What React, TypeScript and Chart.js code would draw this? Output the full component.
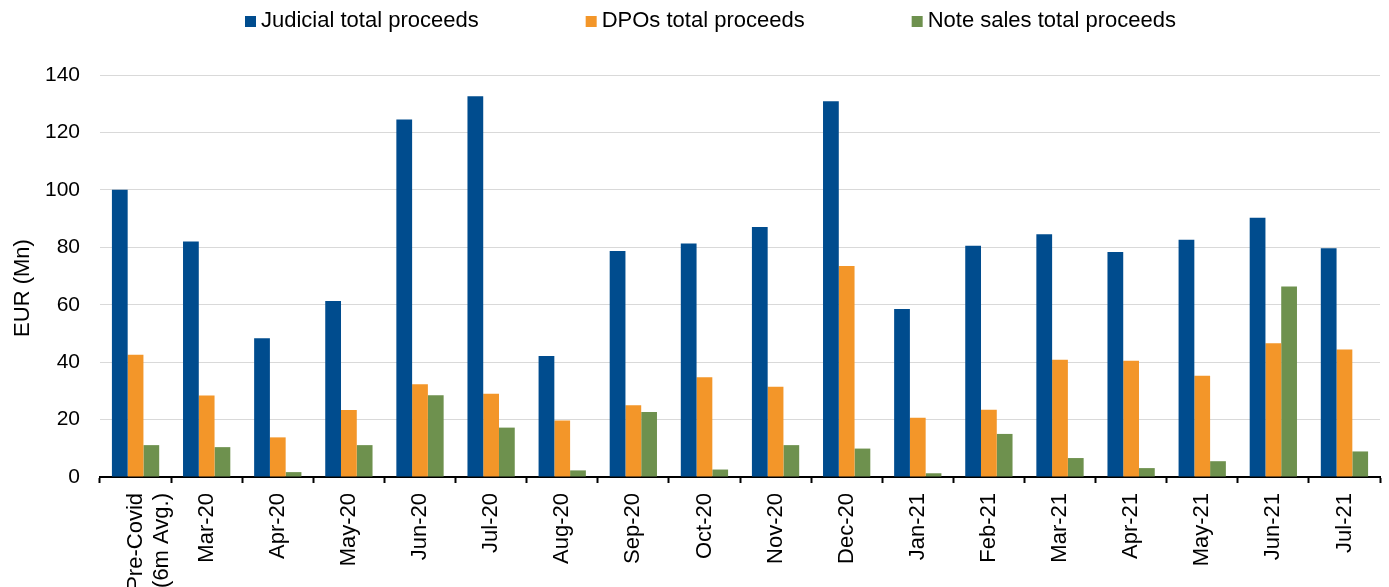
import React, { useEffect, useRef } from "react";
import { Chart, registerables } from "chart.js";

Chart.register(...registerables);

const categories: (string | string[])[] = [
  ["Pre-Covid", "(6m Avg.)"], "Mar-20", "Apr-20", "May-20", "Jun-20", "Jul-20", "Aug-20",
  "Sep-20", "Oct-20", "Nov-20", "Dec-20", "Jan-21", "Feb-21", "Mar-21", "Apr-21",
  "May-21", "Jun-21", "Jul-21",
];

const judicial = [100, 82, 48.3, 61.3, 124.5, 132.6, 42.1, 78.7, 81.3, 87.1, 130.9, 58.5, 80.5, 84.5, 78.4, 82.6, 90.3, 79.7];
const dpos = [42.6, 28.4, 13.8, 23.3, 32.3, 29.0, 19.7, 25.0, 34.7, 31.4, 73.5, 20.6, 23.4, 40.8, 40.5, 35.3, 46.6, 44.4];
const noteSales = [11.1, 10.4, 1.7, 11.1, 28.5, 17.2, 2.3, 22.6, 2.6, 11.1, 9.9, 1.3, 15.0, 6.6, 3.1, 5.5, 66.3, 8.9];

const seriesLabels = ["Judicial total proceeds", "DPOs total proceeds", "Note sales total proceeds"];
const seriesColors = ["#004C8E", "#F39629", "#6E914E"];

const yTitle = "EUR (Mn)";
const yTicks = { min: 0, max: 140, step: 20 };

const FONT = '"Liberation Sans", Arial, sans-serif';

const topLegend = {
  id: "topLegend",
  afterDraw(chart: any) {
    const ctx = chart.ctx;
    ctx.save();
    ctx.font = `22px ${FONT}`;
    ctx.textBaseline = "middle";
    ctx.textAlign = "left";
    let x = 245;
    const yBox = 21.5;
    const yText = 20.5;
    chart.data.datasets.forEach((ds: any) => {
      ctx.fillStyle = ds.backgroundColor;
      ctx.fillRect(x, yBox - 5.5, 11, 11);
      x += 16;
      ctx.fillStyle = "#000";
      ctx.fillText(ds.label, x, yText);
      x += ctx.measureText(ds.label).width + 107;
    });
    // y-axis title
    ctx.translate(23, (chart.chartArea.top + chart.chartArea.bottom) / 2 + 12);
    ctx.rotate(-Math.PI / 2);
    ctx.textAlign = "center";
    ctx.textBaseline = "middle";
    ctx.fillStyle = "#000";
    ctx.fillText(yTitle, 0, 0);
    ctx.restore();
  },
};

export default function App() {
  const ref = useRef<HTMLCanvasElement | null>(null);

  useEffect(() => {
    if (!ref.current) return;
    const chart = new Chart(ref.current, {
      type: "bar",
      data: {
        labels: categories,
        datasets: [judicial, dpos, noteSales].map((d, i) => ({
          label: seriesLabels[i],
          data: d,
          backgroundColor: seriesColors[i],
          borderWidth: 0,
          categoryPercentage: 0.665,
          barPercentage: 1,
        })),
      },
      options: {
        responsive: true,
        maintainAspectRatio: false,
        animation: false,
        layout: { padding: { top: 75, right: 9, left: 0, bottom: 0 } },
        plugins: {
          legend: { display: false },
          tooltip: { enabled: false },
        },
        scales: {
          x: {
            afterFit: (s: any) => {
              s.height = 110;
            },
            border: { display: true, color: "#000", width: 2 },
            grid: {
              display: true,
              drawOnChartArea: false,
              drawTicks: true,
              tickLength: 6,
              tickWidth: 2,
              tickColor: "#000",
              offset: true,
            },
            ticks: {
              autoSkip: false,
              maxRotation: 90,
              minRotation: 90,
              padding: 10,
              color: "#000",
              font: { family: FONT, size: 22, lineHeight: 1.2 },
            },
          },
          y: {
            min: yTicks.min,
            max: yTicks.max,
            afterFit: (s: any) => {
              s.width = 100;
            },
            border: { display: false },
            grid: { color: "#D9D9D9", lineWidth: 1, drawTicks: false },
            ticks: {
              stepSize: yTicks.step,
              padding: 20,
              color: "#000",
              font: { family: FONT, size: 21 },
            },
          },
        },
      },
      plugins: [topLegend],
    });
    return () => chart.destroy();
  }, []);

  return (
    <div style={{ position: "absolute", left: 0, top: 0, width: 1389, height: 587, background: "#fff" }}>
      <canvas ref={ref} />
    </div>
  );
}
